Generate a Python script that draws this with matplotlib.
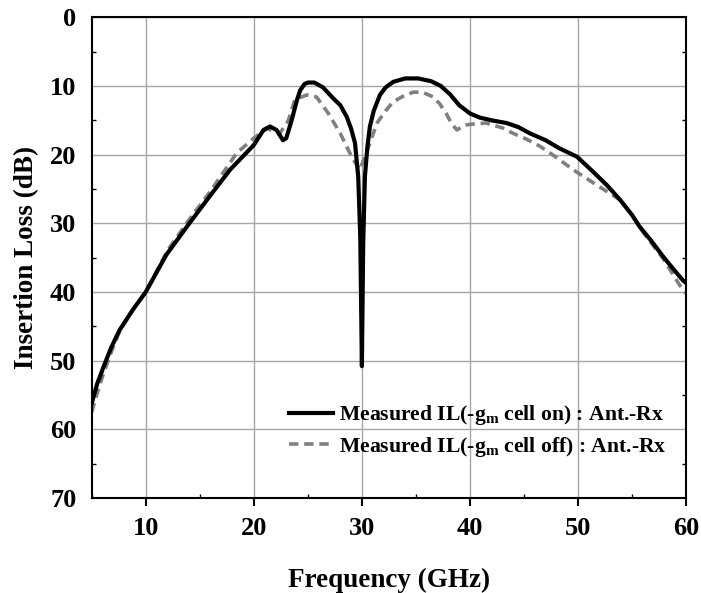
import matplotlib
matplotlib.use('Agg')
import matplotlib.pyplot as plt
from matplotlib.ticker import MultipleLocator

plt.rcParams['font.family'] = 'Liberation Serif'
plt.rcParams['font.weight'] = 'bold'
plt.rcParams['mathtext.fontset'] = 'custom'
plt.rcParams['mathtext.rm'] = 'Liberation Serif:bold'
plt.rcParams['mathtext.bf'] = 'Liberation Serif:bold'

# gm cell on (solid)
freq_on = [5, 5.5, 6.1, 6.8, 7.6, 8.8, 10, 11.9, 13.8, 15.9, 17.8, 20, 20.9, 21.5, 22.1,
           22.7, 23.0, 23.5, 24.0, 24.3, 24.7, 25.0, 25.6, 26.4, 27.35, 28.0, 28.6, 29.0,
           29.36, 29.66, 29.85, 30.0, 30.12, 30.28, 30.5, 30.74, 31.1, 31.67, 32.2, 32.9,
           34.0, 35.2, 36.4, 37.3, 38.15, 39.0, 40.0, 40.9, 42.0, 43.4, 44.5, 45.55, 47.0,
           48.3, 49.9, 51.4, 52.7, 53.9, 55.0, 55.7, 56.8, 57.9, 59.0, 59.7, 60]
il_on = [56.2, 53.4, 50.9, 48.1, 45.5, 42.6, 40.0, 34.6, 30.5, 26.1, 22.2, 18.6, 16.4, 15.9,
         16.4, 17.9, 17.6, 15.0, 12.0, 10.6, 9.7, 9.5, 9.5, 10.2, 11.8, 12.8, 14.5, 16.2,
         18.3, 23.2, 32.0, 50.8, 33.0, 23.2, 19.0, 15.9, 13.6, 11.3, 10.2, 9.4,
         8.9, 8.9, 9.3, 10.0, 11.2, 12.8, 14.0, 14.6, 15.0, 15.4, 16.0, 16.9, 17.9,
         19.1, 20.3, 22.5, 24.5, 26.6, 28.8, 30.5, 32.6, 34.9, 37.0, 38.3, 38.7]

# gm cell off (dashed)
freq_off = [5, 5.5, 6.0, 6.8, 7.6, 8.8, 10, 12, 14, 16, 18.4, 20, 21.2, 22.4, 23.2, 23.8,
            24.9, 25.8, 26.9, 28.0, 29.05, 29.8, 30.4, 31.4, 32.2, 32.9, 33.8, 34.75, 35.6,
            36.6, 37.2, 37.8, 38.3, 38.8, 39.5, 40.5, 41.5, 43.0, 44.0, 45.3, 46.5,
            48.0, 49.55, 51.7, 53.9, 55.0, 56.3, 57.9, 59.4, 60]
il_off = [57.5, 54.8, 52.3, 48.8, 45.6, 42.6, 40.0, 34.0, 29.5, 25.3, 19.8, 17.6, 16.2,
          16.9, 15.0, 12.0, 11.3, 11.6, 14.0, 16.9, 20.3, 22.2, 19.8, 15.4, 13.6, 12.3,
          11.5, 10.9, 10.9, 11.6, 12.6, 14.0, 15.5, 16.4, 15.7, 15.5, 15.4, 16.1, 16.9,
          17.8, 18.8, 20.4, 22.2, 24.4, 26.6, 28.8, 31.9, 35.2, 39.0, 40.2]

fig = plt.figure(figsize=(7.01, 5.93), dpi=100)
ax = fig.add_axes([0.1308, 0.1602, 0.848, 0.8106])

ax.plot(freq_on, il_on, color='black', lw=3.0, solid_joinstyle='round',
        label='Measured IL(-g$_{\\mathrm{m}}$ cell on) : Ant.-Rx', zorder=3)
ax.plot(freq_off, il_off, color='#808080', lw=2.6, dashes=(2.6, 1.6),
        label='Measured IL(-g$_{\\mathrm{m}}$ cell off) : Ant.-Rx', zorder=2)

ax.set_xlim(5, 60)
ax.set_ylim(70, 0)
ax.xaxis.set_major_locator(MultipleLocator(10))
ax.xaxis.set_minor_locator(MultipleLocator(5))
ax.yaxis.set_major_locator(MultipleLocator(10))
ax.yaxis.set_minor_locator(MultipleLocator(5))
ax.grid(True, which='major', color='#a6a6a6', lw=1.0)
ax.set_axisbelow(True)

for s in ax.spines.values():
    s.set_linewidth(1.5)

ax.tick_params(axis='x', which='major', direction='out', length=6, width=1.5,
               labelsize=19, pad=8)
ax.tick_params(axis='y', which='major', direction='out', length=0,
               labelsize=19, pad=11)
ax.tick_params(which='minor', direction='in', length=3, width=1, right=True)
ax.tick_params(axis='y', which='major', right=False)

ax.set_xlabel('Frequency (GHz)', fontsize=19.5, fontweight='bold', labelpad=20)
ax.set_ylabel('Insertion Loss (dB)', fontsize=19.5, fontweight='bold', labelpad=8)

ax.legend(loc='upper left', bbox_to_anchor=(0.318, 0.215), frameon=False,
          fontsize=15.6, handlelength=2.0, handletextpad=0.3, labelspacing=0.35,
          borderaxespad=0)

fig.savefig('out.png', dpi=100)
